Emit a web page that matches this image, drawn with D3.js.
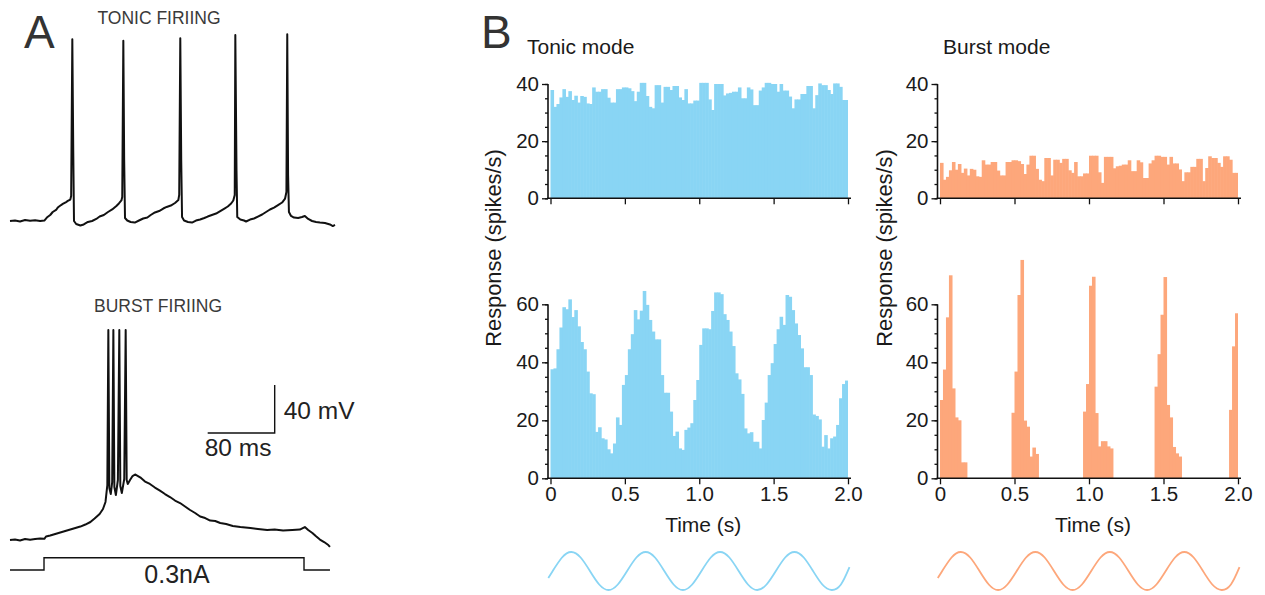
<!DOCTYPE html>
<html>
<head>
<meta charset="utf-8">
<script src="https://cdn.jsdelivr.net/npm/d3@7"></script>
<style>
  html, body { margin: 0; padding: 0; background: #fff; }
  svg { display: block; }
  text { font-family: "Liberation Sans", Arial, Helvetica, sans-serif; }
</style>
</head>
<body>
<svg id="fig" width="1265" height="595"></svg>
<script>
// ---------------- DATA ----------------
// Panel A: membrane potential traces (time in ms, voltage in mV)
const tonicTraceT = [0,6,12,18,24,30,36,41,44,48,51,55,57,61,63,67,69,72,73,74.4,75.5,76.4,79,84,88,93,98,103,107,112,117,122,127,130,133,134,135.3,136.3,137.3,140,144,149,154,159,164,168,173,178,183,187,192,197,201,202,203.3,204.4,205.4,207.8,212.5,217.3,222,227,232,236,241,246,251,256,260,264,266.6,268.3,269,270.4,271.3,275,279.4,281.8,286.6,291.3,296,301,305.7,310.4,315.2,320,324.8,328.4,330,331,332,333,335.5,339,344,348.6,352,356,360.6,365.4,370,376,382,385.4,388];
const tonicTraceV = [-70,-69.6,-70.4,-69.2,-69.8,-69.3,-70,-69.6,-67.1,-65,-62.5,-60.8,-58.8,-56.7,-55.8,-54.2,-53.3,-52.1,-49.2,81.4,-10.8,-70,-72.5,-73.8,-72.9,-70.8,-70,-68.3,-66.3,-65,-62.5,-60.4,-57.5,-55.4,-52.9,-50,80.3,-19.2,-67.5,-69.6,-70.8,-71.3,-69.6,-67.9,-67.1,-65,-62.9,-61.7,-59.6,-58.3,-57.1,-55,-52.5,-48.3,82.3,-19.2,-66.7,-69.6,-70.8,-71.3,-69.6,-68.8,-67.5,-66.3,-65,-63.8,-61.7,-59.6,-57.9,-55.4,-52.9,-48.3,85,-27.5,-66.7,-68.8,-69.6,-70.4,-68.8,-67.9,-66.3,-64.6,-62.5,-60.4,-58.8,-56.7,-54.6,-51.3,-45.8,85.6,-31.7,-62.5,-65.8,-67.1,-67.5,-66.7,-65.8,-68.3,-70,-70.8,-71.3,-71.7,-72.9,-74.2,-73.3];

const burstTraceT = [0,6,12,18,24,30,36,41,43,48,54,60,66,72,78,84,90,96,101,107,111,114,116.2,117.4,118.6,120.3,122,123.4,124.6,126.4,128.8,130.5,131.7,133.5,136.4,138.1,139.3,140.6,143.3,146.3,149.3,152.8,156.4,161.2,167,173,179,185,191,197,203,209,215,221,227,233,239,245,251,258,266,275,287,296,307,316,326,337,346,352,356,361,365,370,375,380,382];
const burstTraceV = [-70,-69.6,-70.4,-69.2,-69.8,-69.2,-68.8,-69,-67.1,-66.3,-65,-63.8,-62.5,-61.3,-60,-58.8,-57.1,-55,-52.1,-48.3,-44.2,-38.3,-24.2,105,-26.7,-31.7,-21.7,105,-25.8,-32.5,-20,105,-25,-30.8,-19.2,105,-20,-23.3,-20,-16.7,-15.4,-16.7,-18.3,-21.3,-23.3,-26.3,-28.8,-31.7,-34.2,-37.1,-39.2,-42.1,-45,-47.5,-50.4,-51.7,-53.8,-54.2,-55.8,-56.7,-58.3,-59.2,-60,-60.8,-61.7,-61.3,-62.1,-61.7,-61.3,-59.2,-61.7,-64.2,-66.7,-69.6,-71.7,-74.2,-75.8];

// injected current step (ms, nA)
const stepT = [0, 40.6, 40.6, 351, 351, 382];
const stepI = [0, 0, 0.3, 0.3, 0, 0];

// scale bar sizes
const scaleBarMs = 80, scaleBarMv = 40;

// Panel B: PSTH, 100 bins of 20 ms over 0-2 s (spikes/s)
const binWidth = 0.02;
const tonicFlat = [37.9,32,33,35.3,38.2,35.5,37.5,34.4,35.9,33.5,
  35.8,35.5,33.2,33,38.8,37.3,37.3,38.2,38.2,35.2,
  33.5,33.5,38.2,38.2,38.8,38.8,38.5,37.5,34,37.3,
  40.4,40.4,35.8,32,31.5,39.6,39.6,33.5,39,39,
  37.9,39.3,39.3,35.3,34.4,38.2,33.2,33.2,34.2,34.2,
  40.4,40.4,40.4,34.6,30.9,40,40,40,36,36.7,
  36.9,37.3,37.3,38.8,35,35,38.8,38.1,32.6,32.6,
  37.7,38.8,40.4,40.4,40,40,37.3,40,37.7,37.7,
  35.6,31.5,34.6,34.6,36.5,36.5,39.3,39.3,31.5,36.1,
  40.2,39.6,39.6,37.9,36.5,40.2,40.2,39,34.4,34.4];
const burstFlat = [12.4,6.5,7.5,9.8,12.7,10,12,8.9,10.4,8,
  10.3,10,7.7,7.5,13.3,11.8,11.8,12.7,12.7,9.7,
  8,8,12.7,12.7,13.3,13.3,13,12,8.5,11.8,
  14.9,14.9,10.3,6.5,6,14.1,14.1,8,13.5,13.5,
  12.4,13.8,13.8,9.8,8.9,12.7,7.7,7.7,8.7,8.7,
  14.9,14.9,14.9,9.1,5.4,14.5,14.5,14.5,10.5,11.2,
  11.4,11.8,11.8,13.3,9.5,9.5,13.3,12.6,7.1,7.1,
  12.2,13.3,14.9,14.9,14.5,14.5,11.8,14.5,12.2,12.2,
  10.1,6,9.1,9.1,11,11,13.8,13.8,6,10.6,
  14.7,14.1,14.1,12.4,11,14.7,14.7,13.5,8.9,8.9];
const tonicSine = [37.6,37.9,44.5,52,59,58.3,61.7,55.6,58,52.4,
  47,44.5,36.8,29.3,29,16,17.6,13.8,13.4,10,
  8.6,12,21,18.4,32.2,35.6,44.5,49.7,58,54.8,
  57.8,64.6,59.8,54.6,50.6,47.9,47.9,35.6,29.5,29.5,
  23,14.6,16.1,10.3,9.8,16.7,17.5,19,27,33.9,
  46,51.7,51.7,51.4,57.7,64.1,64.1,63.5,56.6,54.6,
  50.6,45.6,36.2,34.1,29.1,17.2,15.5,15.9,12.6,12.6,
  10.3,20.1,26.1,35.6,39.7,46.3,51.4,55.7,52.9,63.2,
  62.6,58,53.4,49.4,44.8,38.3,38.3,35.6,22,21.5,
  20.3,10.9,14.9,10.3,13.8,14.4,18.4,27.6,32.5,33.7];
const burstSine = [27,37.5,55.5,70,31,21,20,5.5,5.5,0,
  0,0,0,0,0,0,0,0,0,0,
  0,0,0,0,22.6,36.8,63.2,75.3,19.9,17.8,
  7.5,10.6,8.4,0,0,0,0,0,0,0,
  0,0,0,0,0,0,0,0,23,32.5,
  66.4,69.5,22.5,11,12.8,12.8,11,10.3,0,0,
  0,0,0,0,0,0,0,0,0,0,
  0,0,31.6,42.8,56.4,69.4,25.3,21,10.8,8.6,
  7.5,0,0,0,0,0,0,0,0,0,
  0,0,0,0,0,0,0,23.6,45.5,56.9];

// stimulus sinusoid samples (s, normalized)
const stimT = [-0.015,0.015,0.0775,0.14,0.2025,0.265,0.3275,0.39,0.4525,0.515,0.5775,0.64,0.7025,0.765,0.8275,0.89,0.9525,1.015,1.0775,1.14,1.2025,1.265,1.3275,1.39,1.4525,1.515,1.5775,1.64,1.7025,1.765,1.8275,1.89,1.9525,2.01];
const stimV = [-0.37,0,0.71,1,0.71,0,-0.71,-1,-0.71,0,0.71,1,0.71,0,-0.71,-1,-0.71,0,0.71,1,0.71,0,-0.71,-1,-0.71,0,0.71,1,0.71,0,-0.71,-1,-0.71,0.2];

const timeTicks = [0, 0.5, 1.0, 1.5, 2.0];
const timeTickLabels = ["0", "0.5", "1.0", "1.5", "2.0"];
const topYTicks = [0, 20, 40];
const botYTicks = [0, 20, 40, 60];

// colours
const tonicColor = "#89d5f4";
const burstColor = "#fda77b";
const textColor = "#1a1a1a";

// ---------------- DRAW ----------------
const svg = d3.select("#fig");

// ===== Panel A =====
svg.append("text").attr("x", 24).attr("y", 48).attr("font-size", 46).attr("fill", "#333").text("A");
svg.append("text").attr("x", 159).attr("y", 24).attr("text-anchor", "middle").attr("font-size", 17.5).attr("fill", "#3a3a3a").text("TONIC FIRIING");
svg.append("text").attr("x", 158).attr("y", 312).attr("text-anchor", "middle").attr("font-size", 17.5).attr("fill", "#3a3a3a").text("BURST FIRIING");

const xA = d3.scaleLinear().domain([0, 388]).range([10, 335]);
const yTonicA = d3.scaleLinear().domain([-70, 0]).range([221, 137]);
const yBurstA = d3.scaleLinear().domain([-70, 0]).range([540, 456]);
const yCurr = d3.scaleLinear().domain([0, 0.3]).range([570, 557.7]);

const traceLine = (ys) => d3.line().x(d => xA(d[0])).y(d => ys(d[1]));
svg.append("path")
  .attr("d", traceLine(yTonicA)(d3.zip(tonicTraceT, tonicTraceV)))
  .attr("fill", "none").attr("stroke", "#111").attr("stroke-width", 2).attr("stroke-linejoin", "round");
svg.append("path")
  .attr("d", traceLine(yBurstA)(d3.zip(burstTraceT, burstTraceV)))
  .attr("fill", "none").attr("stroke", "#111").attr("stroke-width", 2).attr("stroke-linejoin", "round");
svg.append("path")
  .attr("d", traceLine(yCurr)(d3.zip(stepT, stepI)))
  .attr("fill", "none").attr("stroke", "#111").attr("stroke-width", 1.4);
svg.append("text").attr("x", 177).attr("y", 583).attr("text-anchor", "middle").attr("font-size", 25).attr("fill", "#222").text("0.3nA");

// scale bar (anchored at 316 ms, 19 mV in burst-trace coordinates)
const sbT = 316, sbV = 19.2;
svg.append("path")
  .attr("d", `M${xA(sbT - scaleBarMs)},${yBurstA(sbV)}H${xA(sbT)}V${yBurstA(sbV + scaleBarMv)}`)
  .attr("fill", "none").attr("stroke", "#111").attr("stroke-width", 1.4);
svg.append("text").attr("x", xA(sbT) + 9).attr("y", 419).attr("font-size", 24.5).attr("fill", "#222").text("40 mV");
svg.append("text").attr("x", xA(sbT - scaleBarMs) - 3).attr("y", 456).attr("font-size", 24.5).attr("fill", "#222").text("80 ms");

// ===== Panel B =====
svg.append("text").attr("x", 481).attr("y", 48).attr("font-size", 46).attr("fill", "#333").text("B");
svg.append("text").attr("x", 527).attr("y", 54).attr("font-size", 21).attr("fill", textColor).text("Tonic mode");
svg.append("text").attr("x", 943).attr("y", 54).attr("font-size", 21).attr("fill", textColor).text("Burst mode");

function drawHist(opts) {
  const { x, y, data, color, ticks, yMax, showXLabels } = opts;
  const g = svg.append("g");
  // bars (slight overlap so neighbouring bars merge into one solid fill)
  g.selectAll("rect").data(data).join("rect")
    .attr("x", (d, i) => x(i * binWidth))
    .attr("width", (d, i) => x(binWidth) - x(0) + (i < data.length - 1 ? 0.6 : 0))
    .attr("y", d => y(d))
    .attr("height", d => y(0) - y(d))
    .attr("fill", color);
  const axisX = x(0) - 2.5;
  // y axis: minor ticks
  const minor = d3.range(0, yMax + 0.01, 5);
  g.append("g").attr("transform", `translate(${axisX},0)`)
    .call(d3.axisLeft(y).tickValues(minor).tickSize(3).tickSizeOuter(0).tickFormat(""))
    .call(a => a.select(".domain").remove())
    .call(a => a.selectAll("line").attr("stroke", "#111").attr("stroke-width", 1.3));
  // y axis: major ticks
  g.append("g").attr("transform", `translate(${axisX},0)`)
    .call(d3.axisLeft(y).tickValues(ticks).tickSize(6).tickSizeOuter(0).tickPadding(3).tickFormat(d3.format("d")))
    .call(a => a.select(".domain").remove())
    .call(a => a.selectAll("line").attr("stroke", "#111").attr("stroke-width", 1.3))
    .call(a => a.selectAll("text").attr("font-size", 20.5).attr("fill", textColor).attr("font-family", "Liberation Sans, Arial, sans-serif"));
  g.append("line").attr("x1", axisX).attr("x2", axisX).attr("y1", y(0) + 0.7).attr("y2", y(yMax))
    .attr("stroke", "#111").attr("stroke-width", 1.6);
  // x axis
  g.append("g").attr("transform", `translate(0,${y(0)})`)
    .call(d3.axisBottom(x).tickValues(timeTicks).tickSize(6).tickSizeOuter(0).tickPadding(2)
      .tickFormat((d, i) => showXLabels ? timeTickLabels[i] : ""))
    .call(a => a.select(".domain").remove())
    .call(a => a.selectAll("line").attr("stroke", "#111").attr("stroke-width", 1.3))
    .call(a => a.selectAll("text").attr("font-size", 20.5).attr("fill", textColor).attr("font-family", "Liberation Sans, Arial, sans-serif"));
  g.append("line").attr("x1", axisX - 0.8).attr("x2", x(2) + 3).attr("y1", y(0)).attr("y2", y(0))
    .attr("stroke", "#111").attr("stroke-width", 1.6);
}

const xL = d3.scaleLinear().domain([0, 2]).range([550.5, 848]);
const xR = d3.scaleLinear().domain([0, 2]).range([940, 1238]);
const yTop = d3.scaleLinear().domain([0, 40]).range([198.3, 84]);
const yBot = d3.scaleLinear().domain([0, 60]).range([478.3, 304.3]);

drawHist({ x: xL, y: yTop, data: tonicFlat, color: tonicColor, ticks: topYTicks, yMax: 40, showXLabels: false });
drawHist({ x: xR, y: yTop, data: burstFlat, color: burstColor, ticks: topYTicks, yMax: 40, showXLabels: false });
drawHist({ x: xL, y: yBot, data: tonicSine, color: tonicColor, ticks: botYTicks, yMax: 60, showXLabels: true });
drawHist({ x: xR, y: yBot, data: burstSine, color: burstColor, ticks: botYTicks, yMax: 60, showXLabels: true });

// axis titles
[[493, xL], [884, xR]].forEach(([cx, xs]) => {
  svg.append("text").attr("transform", `translate(${cx},248) rotate(-90)`)
    .attr("text-anchor", "middle").attr("dy", "0.35em").attr("font-size", 21.8).attr("fill", textColor)
    .text("Response (spikes/s)");
  svg.append("text").attr("x", (xs(0) + xs(2)) / 2 + 4).attr("y", 532)
    .attr("text-anchor", "middle").attr("font-size", 21).attr("fill", textColor).text("Time (s)");
});

// stimulus sinusoids
const yStim = d3.scaleLinear().domain([-1, 1]).range([590, 552]);
[[xL, tonicColor], [xR, burstColor]].forEach(([xs, c]) => {
  svg.append("path")
    .attr("d", d3.line().curve(d3.curveNatural).x(d => xs(d[0])).y(d => yStim(d[1]))(d3.zip(stimT, stimV)))
    .attr("fill", "none").attr("stroke", c).attr("stroke-width", 1.8);
});
</script>
</body>
</html>
